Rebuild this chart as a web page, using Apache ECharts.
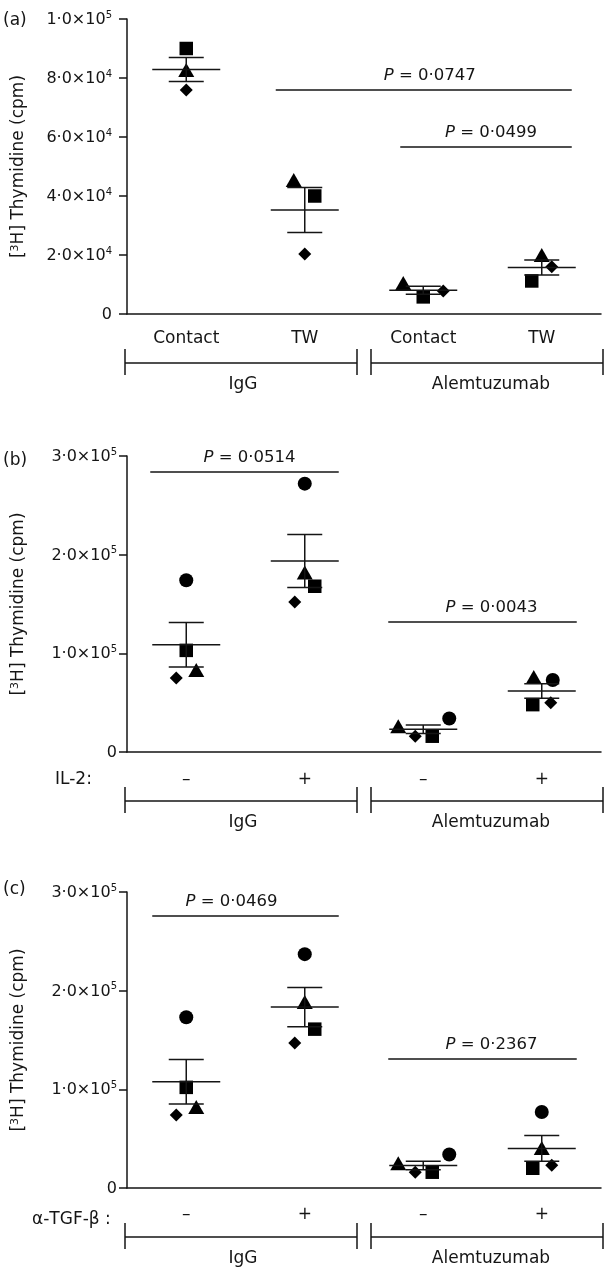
<!DOCTYPE html>
<html><head><meta charset="utf-8">
<script src="https://cdn.jsdelivr.net/npm/echarts@6/dist/echarts.min.js"></script>
<style>html,body{margin:0;padding:0;background:#fff}#c{width:605px;height:1267px}</style>
</head><body><div id="c"></div>
<script>
// ---------- text ----------
const CATS_A = ['Contact', 'TW', 'Contact', 'TW'];
const CATS_B = ['–', '+', '–', '+'];
const CATS_C = ['–', '+', '–', '+'];
const GROUPS = ['IgG', 'Alemtuzumab'];
const PANEL_LABELS = ['(a)', '(b)', '(c)'];
const ROW_LABELS = ['', 'IL-2:', 'α-TGF-β :'];
const Y_NAME = '[{s|3}H] Thymidine (cpm)';

// ---------- tick labels ----------
const Y_TICKS_A = ['0', '2·0×10^4', '4·0×10^4', '6·0×10^4', '8·0×10^4', '1·0×10^5'];
const Y_TICKS_BC = ['0', '1·0×10^5', '2·0×10^5', '3·0×10^5'];

// ---------- values (cpm), one entry per category ----------
const A_SQUARE   = [90000, 40000, 5800, 11200];
const A_TRIANGLE = [82700, 45400, 10500, 20000];
const A_DIAMOND  = [75900, 20300, 7800, 16000];

const B_CIRCLE   = [174000, 272000, 34000, 73000];
const B_SQUARE   = [103000, 168000, 16000, 48000];
const B_TRIANGLE = [83000, 182000, 26000, 76000];
const B_DIAMOND  = [75000, 152000, 16000, 50000];

const C_CIRCLE   = [173000, 237000, 34000, 77000];
const C_SQUARE   = [102000, 161000, 16000, 20000];
const C_TRIANGLE = [82000, 188500, 25000, 40500];
const C_DIAMOND  = [74000, 147000, 16000, 23000];

// ---------- P-value brackets ----------
const P_SPAN_A = [[1, 3], [2, 3]];
const P_LEVEL_A = [75900, 56600];
const P_TEXT_A = ['0·0747', '0·0499'];
const P_SPAN_B = [[0, 1], [2, 3]];
const P_LEVEL_B = [283800, 131800];
const P_TEXT_B = ['0·0514', '0·0043'];
const P_SPAN_C = [[0, 1], [2, 3]];
const P_LEVEL_C = [275700, 130700];
const P_TEXT_C = ['0·0469', '0·2367'];

// ---------- styling / layout ----------
const FONT = 'DejaVu Sans';
const INK = '#151515';
const LW = 1.5;
const GRID_LEFT = 127, GRID_W = 474;
const GRIDS = [{ top: 19, height: 295 }, { top: 456, height: 296 }, { top: 892, height: 296 }];
const SYMBOLS = {
  square: { symbol: 'rect', size: 13.5 },
  triangle: { symbol: 'triangle', size: [16, 14] },
  diamond: { symbol: 'diamond', size: 13 },
  circle: { symbol: 'circle', size: 14 }
};
// horizontal jitter of markers, pixels
const JITTER = [
  { square: [0, 10, 0, -10], triangle: [0, -11, -20, 0], diamond: [0, 0, 20, 10] },
  { circle: [0, 0, 26, 11], square: [0, 10, 9, -9], triangle: [10, 0, -25, -8], diamond: [-10, -10, -8, 9] },
  { circle: [0, 0, 26, 0], square: [0, 10, 9, -9], triangle: [10, 0, -25, 0], diamond: [-10, -10, -8, 10] }
];
const P_OFFSETS = [
  { ends: [[-29, 30], [-23, 30]], text: [6, 5] },
  { ends: [[-36, 34], [-35, 35]], text: [5, 9] },
  { ends: [[-34, 34], [-35, 35]], text: [-14, 9] }
];
const LABEL_MARGIN = [16.5, 19.5, 18.5];
const YLABEL_MARGIN = [15, 10, 10];

const panels = [
  { cats: CATS_A, max: 100000, step: 20000, ticks: Y_TICKS_A,
    shapes: { square: A_SQUARE, triangle: A_TRIANGLE, diamond: A_DIAMOND },
    pSpan: P_SPAN_A, pLevel: P_LEVEL_A, pText: P_TEXT_A },
  { cats: CATS_B, max: 300000, step: 100000, ticks: Y_TICKS_BC,
    shapes: { circle: B_CIRCLE, square: B_SQUARE, triangle: B_TRIANGLE, diamond: B_DIAMOND },
    pSpan: P_SPAN_B, pLevel: P_LEVEL_B, pText: P_TEXT_B },
  { cats: CATS_C, max: 300000, step: 100000, ticks: Y_TICKS_BC,
    shapes: { circle: C_CIRCLE, square: C_SQUARE, triangle: C_TRIANGLE, diamond: C_DIAMOND },
    pSpan: P_SPAN_C, pLevel: P_LEVEL_C, pText: P_TEXT_C }
];

function tickFormatter(ticks, step) {
  return function (v) {
    const s = ticks[Math.round(v / step)];
    if (s === undefined) return '';
    const parts = s.split('^');
    return parts.length > 1 ? '{b|' + parts[0] + '}{s|' + parts[1] + '}' : '{b|' + parts[0] + '}';
  };
}

function meanSem(arrays, i) {
  const v = arrays.map(a => a[i]);
  const n = v.length;
  const m = v.reduce((s, x) => s + x, 0) / n;
  const sd = Math.sqrt(v.reduce((s, x) => s + (x - m) * (x - m), 0) / (n - 1));
  return [m, sd / Math.sqrt(n)];
}

const grid = [], xAxis = [], yAxis = [], series = [], graphic = [];

panels.forEach((p, k) => {
  grid.push({ left: GRID_LEFT, width: GRID_W, top: GRIDS[k].top, height: GRIDS[k].height });
  xAxis.push({
    type: 'category', gridIndex: k, data: p.cats,
    axisLine: { lineStyle: { color: INK, width: LW } },
    axisTick: { alignWithLabel: true, length: 7, lineStyle: { color: INK, width: LW } },
    axisLabel: { color: INK, fontFamily: FONT, fontSize: 17, margin: LABEL_MARGIN[k] },
    splitLine: { show: false }
  });
  yAxis.push({
    type: 'value', gridIndex: k, min: 0, max: p.max, interval: p.step,
    name: Y_NAME, nameLocation: 'middle', nameGap: 100,
    nameTextStyle: { color: INK, fontFamily: FONT, fontSize: 17,
      rich: { s: { fontFamily: FONT, fontSize: 11, verticalAlign: 'top', lineHeight: 12, color: INK } } },
    axisLine: { show: true, lineStyle: { color: INK, width: LW } },
    axisTick: { show: true, length: 8, lineStyle: { color: INK, width: LW } },
    splitLine: { show: false },
    axisLabel: {
      margin: YLABEL_MARGIN[k], formatter: tickFormatter(p.ticks, p.step),
      rich: {
        b: { fontFamily: FONT, fontSize: 16, color: INK, lineHeight: 18, verticalAlign: 'bottom' },
        s: { fontFamily: FONT, fontSize: 10, color: INK, lineHeight: 10, verticalAlign: 'top' }
      }
    }
  });

  // markers
  Object.keys(p.shapes).forEach(shape => {
    const vals = p.shapes[shape];
    series.push({
      type: 'scatter', xAxisIndex: k, yAxisIndex: k, z: 3,
      symbol: SYMBOLS[shape].symbol, symbolSize: SYMBOLS[shape].size,
      itemStyle: { color: '#000', opacity: 1 },
      data: vals.map((v, i) => ({ value: [i, v], symbolOffset: [JITTER[k][shape][i], 0] })),
      silent: true
    });
  });

  // mean ± SEM
  const arrs = Object.keys(p.shapes).map(s => p.shapes[s]);
  const msData = p.cats.map((c, i) => { const r = meanSem(arrs, i); return [i, r[0], r[1]]; });
  series.push({
    type: 'custom', xAxisIndex: k, yAxisIndex: k, z: 4, silent: true,
    data: msData,
    renderItem: function (params, api) {
      const x = api.value(0), m = api.value(1), e = api.value(2);
      const pm = api.coord([x, m]), pu = api.coord([x, m + e]), pl = api.coord([x, m - e]);
      const st = { stroke: INK, lineWidth: LW };
      return { type: 'group', children: [
        { type: 'line', shape: { x1: pm[0] - 34, y1: pm[1], x2: pm[0] + 34, y2: pm[1] }, style: st },
        { type: 'line', shape: { x1: pu[0] - 17.5, y1: pu[1], x2: pu[0] + 17.5, y2: pu[1] }, style: st },
        { type: 'line', shape: { x1: pl[0] - 17.5, y1: pl[1], x2: pl[0] + 17.5, y2: pl[1] }, style: st },
        { type: 'line', shape: { x1: pu[0], y1: pu[1], x2: pl[0], y2: pl[1] }, style: st }
      ] };
    }
  });

  // P brackets
  const pData = p.pSpan.map((s, i) => [s[0], s[1], p.pLevel[i]]);
  series.push({
    type: 'custom', xAxisIndex: k, yAxisIndex: k, z: 4, silent: true, clip: false,
    data: pData,
    renderItem: function (params, api) {
      const i = params.dataIndex;
      const off = P_OFFSETS[k];
      const a = api.coord([api.value(0), api.value(2)]);
      const b = api.coord([api.value(1), api.value(2)]);
      const x1 = a[0] + off.ends[i][0], x2 = b[0] + off.ends[i][1];
      return { type: 'group', children: [
        { type: 'line', shape: { x1: x1, y1: a[1], x2: x2, y2: a[1] }, style: { stroke: INK, lineWidth: LW } },
        { type: 'text', style: {
            text: '{i|P} = ' + p.pText[i], x: (x1 + x2) / 2 + off.text[i], y: a[1] - 14,
            align: 'center', verticalAlign: 'middle', fill: INK, fontFamily: FONT, fontSize: 16.5,
            rich: { i: { fontStyle: 'italic', fontFamily: FONT, fontSize: 16.5, fill: INK } }
        } }
      ] };
    }
  });

  // group brackets below axis
  const axisY = GRIDS[k].top + GRIDS[k].height;
  const L = GRID_LEFT - 2, R = GRID_LEFT + GRID_W + 2;
  const midGap = GRID_LEFT + GRID_W / 2;
  const gl = midGap - 7, gr = midGap + 7;
  const hy = axisY + 49, vt = axisY + 35, vb = axisY + 61;
  const ls = { stroke: INK, lineWidth: LW };
  [[L, hy, gl, hy], [gr, hy, R, hy], [L, vt, L, vb], [gl, vt, gl, vb], [gr, vt, gr, vb], [R, vt, R, vb]]
    .forEach(s => graphic.push({ type: 'line', shape: { x1: s[0], y1: s[1], x2: s[2], y2: s[3] }, style: ls }));
  graphic.push({ type: 'text', x: (L + gl) / 2 + 2, y: axisY + 71,
    style: { text: GROUPS[0], fill: INK, fontFamily: FONT, fontSize: 17, align: 'center', verticalAlign: 'middle' } });
  graphic.push({ type: 'text', x: (gr + R) / 2 + 4, y: axisY + 71,
    style: { text: GROUPS[1], fill: INK, fontFamily: FONT, fontSize: 17, align: 'center', verticalAlign: 'middle' } });
  // panel letter
  const letterY = [21, 461, 890][k];
  graphic.push({ type: 'text', x: 3, y: letterY,
    style: { text: PANEL_LABELS[k], fill: INK, fontFamily: FONT, fontSize: 17, align: 'left', verticalAlign: 'middle' } });
  if (ROW_LABELS[k]) {
    graphic.push({ type: 'text', x: k === 1 ? 55 : 32, y: axisY + (k === 1 ? 28 : 32),
      style: { text: ROW_LABELS[k], fill: INK, fontFamily: FONT, fontSize: 17, align: 'left', verticalAlign: 'middle' } });
  }
});

const chart = echarts.init(document.getElementById('c'), null, { renderer: 'canvas' });
chart.setOption({ animation: false, backgroundColor: '#fff', grid, xAxis, yAxis, series, graphic });
</script>
</body></html>
